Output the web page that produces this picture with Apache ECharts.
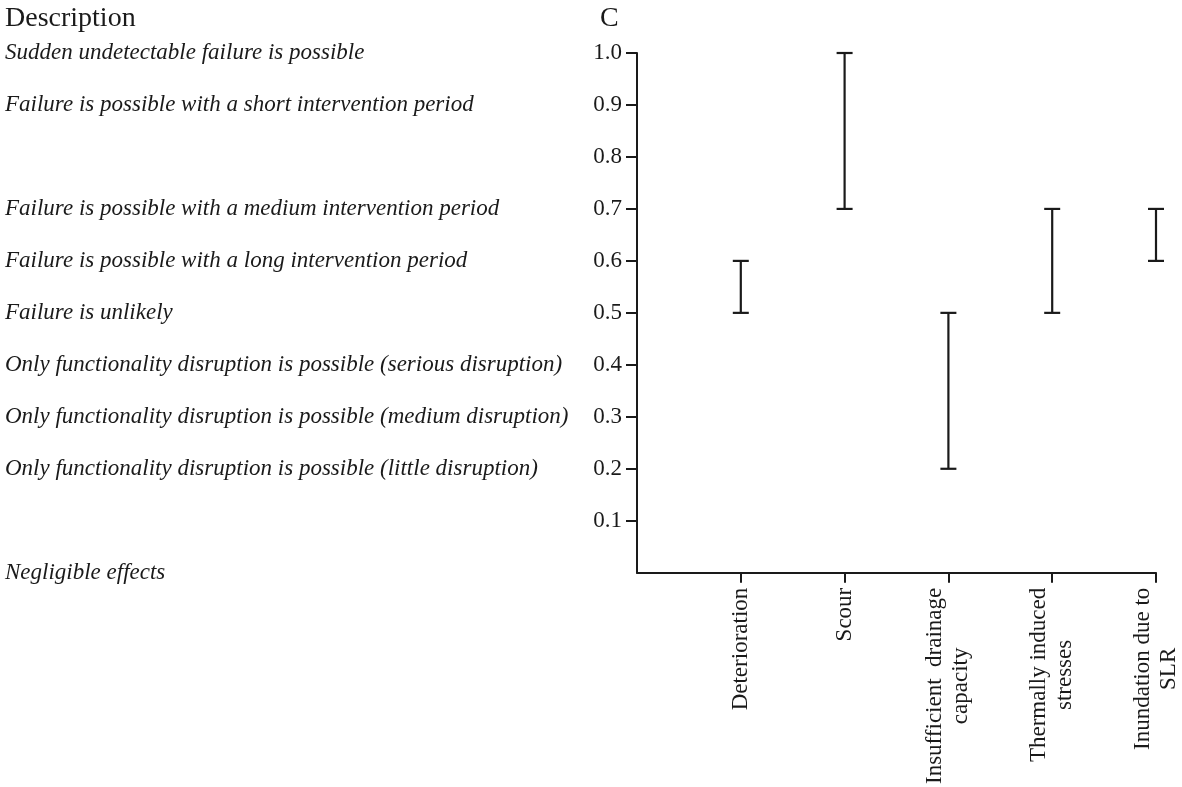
<!DOCTYPE html>
<html>
<head>
<meta charset="utf-8">
<script src="https://cdn.jsdelivr.net/npm/echarts@6/dist/echarts.min.js"></script>
<style>
  html, body { margin: 0; padding: 0; background: #fff; }
  #chart { width: 1182px; height: 787px; }
</style>
</head>
<body>
<div id="chart"></div>
<script>
// hazard categories (first slot left empty so the first bar sits one step from the axis)
const categories = ['', 'Deterioration', 'Scour', 'Insufficient  drainage\ncapacity', 'Thermally induced\nstresses', 'Inundation due to\nSLR'];
const lowValues = [null, 0.5, 0.7, 0.2, 0.5, 0.6];
const highValues = [null, 0.6, 1.0, 0.5, 0.7, 0.7];

// consequence descriptions per score level
const levels = [0, 0.1, 0.2, 0.3, 0.4, 0.5, 0.6, 0.7, 0.8, 0.9, 1.0];
const descriptions = [
  'Negligible effects',
  '',
  'Only functionality disruption is possible (little disruption)',
  'Only functionality disruption is possible (medium disruption)',
  'Only functionality disruption is possible (serious disruption)',
  'Failure is unlikely',
  'Failure is possible with a long intervention period',
  'Failure is possible with a medium intervention period',
  '',
  'Failure is possible with a short intervention period',
  'Sudden undetectable failure is possible'
];

const font = '"Liberation Serif", "Times New Roman", serif';
const ink = '#1a1a1a';
const fs = 23;

const chart = echarts.init(document.getElementById('chart'));

const findDescription = (v) => {
  const i = levels.findIndex(l => Math.abs(l - v) < 1e-6);
  return i >= 0 ? descriptions[i] : '';
};

const option = {
  animation: false,
  backgroundColor: '#fff',
  title: [
    {
      text: 'Description',
      left: 0,
      top: 0,
      textStyle: { fontFamily: font, fontSize: 28, fontWeight: 'normal', color: ink }
    },
    {
      text: 'C',
      left: 595,
      top: 0,
      textStyle: { fontFamily: font, fontSize: 28, fontWeight: 'normal', color: ink }
    }
  ],
  grid: { left: 637, right: 24, top: 53, bottom: 214, containLabel: false },
  xAxis: {
    type: 'category',
    data: categories,
    boundaryGap: false,
    axisLine: { lineStyle: { color: ink, width: 2 } },
    axisTick: {
      length: 10,
      lineStyle: { color: ink, width: 2 },
      interval: (idx) => idx > 0
    },
    axisLabel: {
      interval: 0,
      rotate: 90,
      margin: 15,
      fontFamily: font,
      fontSize: fs,
      color: ink,
      lineHeight: 26,
      formatter: (v) => v.split('\n').map(s => '{a|' + s + '}').join('\n'),
      rich: { a: { align: 'center', fontFamily: font, fontSize: fs, color: ink, lineHeight: 26 } }
    },
    splitLine: { show: false }
  },
  yAxis: [
    {
      type: 'value',
      min: 0,
      max: 1,
      interval: 0.1,
      axisLine: { show: true, lineStyle: { color: ink, width: 2 } },
      axisTick: {
        show: true,
        length: 11,
        customValues: levels.slice(1),
        lineStyle: { color: ink, width: 2 }
      },
      axisLabel: {
        margin: 15,
        fontFamily: font,
        fontSize: fs,
        color: ink,
        formatter: (v) => (v === 0 ? '' : v.toFixed(1))
      },
      splitLine: { show: false }
    },
    {
      type: 'value',
      position: 'left',
      min: 0,
      max: 1,
      interval: 0.1,
      axisLine: { show: false },
      axisTick: { show: false },
      splitLine: { show: false },
      axisLabel: {
        align: 'left',
        margin: 632,
        fontFamily: font,
        fontStyle: 'italic',
        fontSize: fs,
        color: ink,
        formatter: findDescription
      }
    }
  ],
  series: [
    {
      type: 'custom',
      yAxisIndex: 0,
      data: categories.map((c, i) => [i, lowValues[i], highValues[i]]).filter(d => d[1] !== null),
      renderItem: (params, api) => {
        const lo = api.coord([api.value(0), api.value(1)]);
        const hi = api.coord([api.value(0), api.value(2)]);
        const half = 8;
        const style = { stroke: ink, lineWidth: 2.2 };
        return {
          type: 'group',
          children: [
            { type: 'line', shape: { x1: lo[0], y1: lo[1], x2: hi[0], y2: hi[1] }, style },
            { type: 'line', shape: { x1: hi[0] - half, y1: hi[1], x2: hi[0] + half, y2: hi[1] }, style },
            { type: 'line', shape: { x1: lo[0] - half, y1: lo[1], x2: lo[0] + half, y2: lo[1] }, style }
          ]
        };
      }
    }
  ]
};

chart.setOption(option);
</script>
</body>
</html>
